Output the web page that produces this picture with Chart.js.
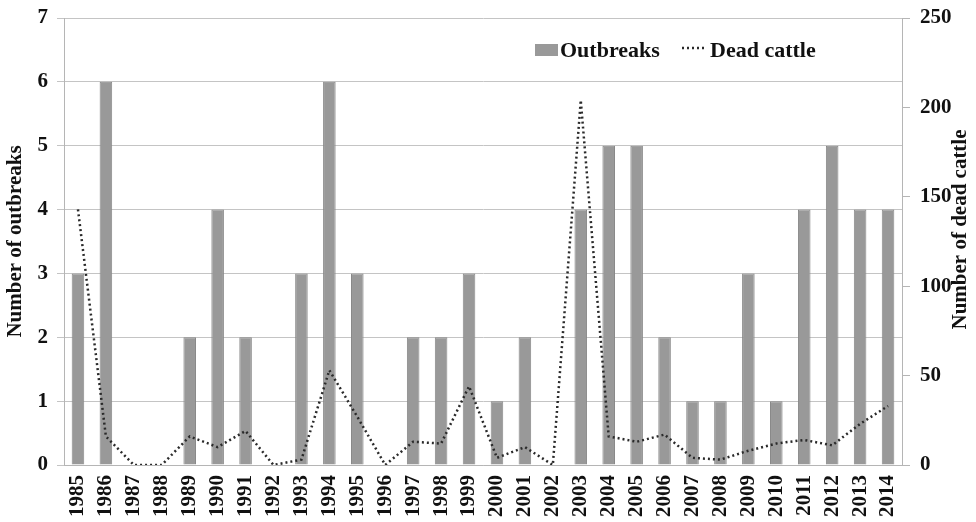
<!DOCTYPE html>
<html>
<head>
<meta charset="utf-8">
<script src="https://cdn.jsdelivr.net/npm/chart.js"></script>
<style>
  html, body { margin: 0; padding: 0; background: #fff; }
  #wrap { width: 976px; height: 522px; }
</style>
</head>
<body>
<div id="wrap"><canvas id="anthrax-chart" width="976" height="522"></canvas></div>
<script>
// yearly outbreaks (bars, left axis) and dead cattle (dotted line, right axis)
const years = ['1985', '1986', '1987', '1988', '1989', '1990', '1991', '1992', '1993', '1994',
  '1995', '1996', '1997', '1998', '1999', '2000', '2001', '2002', '2003', '2004',
  '2005', '2006', '2007', '2008', '2009', '2010', '2011', '2012', '2013', '2014'];
const outbreaks = [3, 6, 0, 0, 2, 4, 2, 0, 3, 6, 3, 0, 2, 2, 3, 1, 2, 0, 4, 5, 5, 2, 1, 1, 3, 1, 4, 5, 4, 4];
const deadCattle = [143, 16, 0, 0, 16, 10, 19, 0, 3, 53, 27, 0, 13, 12, 44, 4, 10, 0, 204, 16, 13, 17, 4, 3, 8, 12, 14, 11, 23, 33];

const serif = 'Liberation Serif, Times New Roman, serif';
const tickFont = { family: serif, size: 21, weight: 'bold' };
const rightTitle = 'Number of dead cattle';

// legend sits inside the plot near the top, and the right title reads bottom-up,
// so both are drawn by hand
const extras = {
  id: 'extras',
  afterDraw(chart) {
    const c = chart.ctx;
    const bars = chart.data.datasets[0];
    const line = chart.data.datasets[1];
    const y = 50;
    c.save();
    c.font = 'bold 22px ' + serif;
    c.textBaseline = 'middle';
    c.fillStyle = bars.backgroundColor;
    c.fillRect(535, y - 6, 23, 12);
    c.fillStyle = '#111';
    c.fillText(bars.label, 560, y + 1);
    c.strokeStyle = line.borderColor;
    c.lineWidth = line.borderWidth;
    c.setLineDash(line.borderDash);
    c.beginPath();
    c.moveTo(682, y - 2);
    c.lineTo(706, y - 2);
    c.stroke();
    c.setLineDash([]);
    c.fillText(line.label, 710, y + 1);

    // right axis title
    const area = chart.chartArea;
    c.font = 'bold 21px ' + serif;
    c.textAlign = 'center';
    c.translate(chart.width - 15, (area.top + area.bottom) / 2 - 12);
    c.rotate(-Math.PI / 2);
    c.fillText(rightTitle, 0, 0);
    c.restore();
  }
};

// fixed axis sizes so the plot area lands where the original has it
function fixY(width) {
  return function (scale) {
    scale.width = width;
    scale.paddingTop = 0;
    scale.paddingBottom = 0;
  };
}

const ctx = document.getElementById('anthrax-chart');
const chart = new Chart(ctx, {
  data: {
    labels: years,
    datasets: [{
      type: 'bar',
      label: 'Outbreaks',
      data: outbreaks,
      yAxisID: 'y',
      backgroundColor: '#999999',
      borderColor: '#888888',
      borderWidth: 1,
      barPercentage: 0.45,
      categoryPercentage: 1,
      order: 2
    }, {
      type: 'line',
      label: 'Dead cattle',
      data: deadCattle,
      yAxisID: 'y1',
      borderColor: '#2a2a2a',
      borderWidth: 2.5,
      borderDash: [2, 3],
      pointRadius: 0,
      tension: 0,
      fill: false,
      order: 1
    }]
  },
  options: {
    responsive: false,
    animation: false,
    layout: { padding: { top: 18, right: 0, left: 0, bottom: 0 } },
    plugins: {
      legend: { display: false },
      tooltip: { enabled: false }
    },
    scales: {
      x: {
        grid: { display: false },
        border: { color: '#b5b5b5' },
        ticks: {
          font: { family: serif, size: 21, weight: 'bold' },
          color: '#111',
          maxRotation: 90,
          minRotation: 90,
          autoSkip: false,
          padding: 2
        },
        afterFit(scale) { scale.height = 57; }
      },
      y: {
        position: 'left',
        min: 0,
        max: 7,
        ticks: { stepSize: 1, font: tickFont, color: '#111', padding: 9 },
        grid: { color: '#c4c4c4', tickLength: 7 },
        border: { color: '#b5b5b5' },
        title: {
          display: true,
          text: 'Number of outbreaks',
          font: tickFont,
          color: '#111',
          padding: { top: 3, bottom: 0 }
        },
        afterFit: fixY(64)
      },
      y1: {
        position: 'right',
        min: 0,
        max: 250,
        ticks: { stepSize: 50, font: tickFont, color: '#111', padding: 10 },
        grid: { drawOnChartArea: false, color: '#b5b5b5', tickLength: 8 },
        border: { color: '#b5b5b5' },
        afterFit: fixY(74)
      }
    }
  },
  plugins: [extras]
});
</script>
</body>
</html>
